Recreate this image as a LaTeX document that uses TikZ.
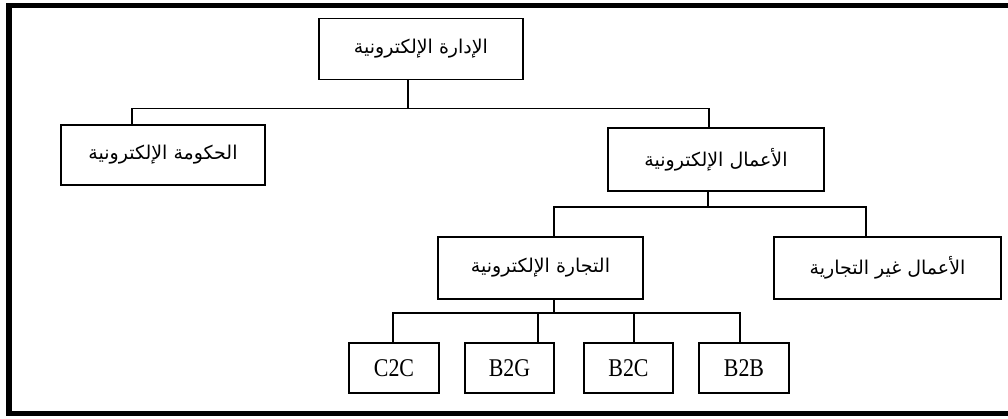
\documentclass[tikz,border=0pt]{standalone}
\usepackage{fontspec}
\setmainfont{Liberation Serif}
\newfontfamily\codefont[FakeStretch=0.86]{Liberation Serif}
\newfontfamily\arabicfont[Script=Arabic]{DejaVu Sans}
\TeXXeTstate=1
\newcommand{\artext}[1]{{\arabicfont\beginR #1\endR}}

\begin{document}
\begin{tikzpicture}[x=1pt,y=-1pt,
  box/.style={draw=black,line width=1.5pt,fill=white,rectangle,inner sep=0pt,
              minimum width=#1,minimum height=61pt,font=\fontsize{19}{20}\selectfont},
  box/.default=204pt,
  code/.style={draw=black,line width=1.5pt,fill=white,rectangle,inner sep=0pt,
               minimum width=89pt,minimum height=50pt,font=\codefont\fontsize{25.5}{27}\selectfont},
  link/.style={draw=black,line width=1.4pt}]
\path[use as bounding box] (0,0) rectangle (1008,419);

% outer frame (open on the right)
\draw[line width=5.5pt] (1008,5.5) -- (9,5.5) -- (9,413.5) -- (1008,413.5);

% boxes
\node[box=204pt] (top) at (421,49) {\artext{الإدارة الإلكترونية}};
\node[box=204pt,minimum height=60pt] (gov) at (163,155) {\artext{الحكومة الإلكترونية}};
\node[box=216pt,minimum height=63pt] (eb) at (716,159.5) {\artext{الأعمال الإلكترونية}};
\node[box=205pt,minimum height=62pt] (ec) at (540.5,268) {\artext{التجارة الإلكترونية}};
\node[box=227pt,minimum height=62pt] (nc) at (887.5,268) {\artext{الأعمال غير التجارية}};

\node[code,minimum width=90pt] (c2c) at (394,368) {C2C};
\node[code] (b2g) at (509.5,368) {B2G};
\node[code] (b2c) at (628.5,368) {B2C};
\node[code,minimum width=90pt] (b2b) at (744,368) {B2B};

% first level bus
\coordinate (j1) at (408,108.5);
\coordinate (gL) at (132,108.5);
\coordinate (eR) at (709,108.5);
\draw[link] (top.south -| j1) -- (j1);
\draw[link] (gov.north -| gL) -- (gL) -- (eR) -- (eb.north -| eR);

% second level bus
\coordinate (j2) at (708,207);
\coordinate (eL) at (554,207);
\coordinate (nR) at (866,207);
\draw[link] (eb.south -| j2) -- (j2);
\draw[link] (ec.north -| eL) -- (eL) -- (nR) -- (nc.north -| nR);

% third level bus
\coordinate (j3) at (554,313);
\coordinate (d1) at (393,313);
\coordinate (d2) at (538,313);
\coordinate (d3) at (634,313);
\coordinate (d4) at (740,313);
\draw[link] (ec.south -| j3) -- (j3);
\draw[link] (c2c.north -| d1) -- (d1) -- (d4) -- (b2b.north -| d4);
\draw[link] (d2) -- (b2g.north -| d2);
\draw[link] (d3) -- (b2c.north -| d3);
\end{tikzpicture}
\end{document}
